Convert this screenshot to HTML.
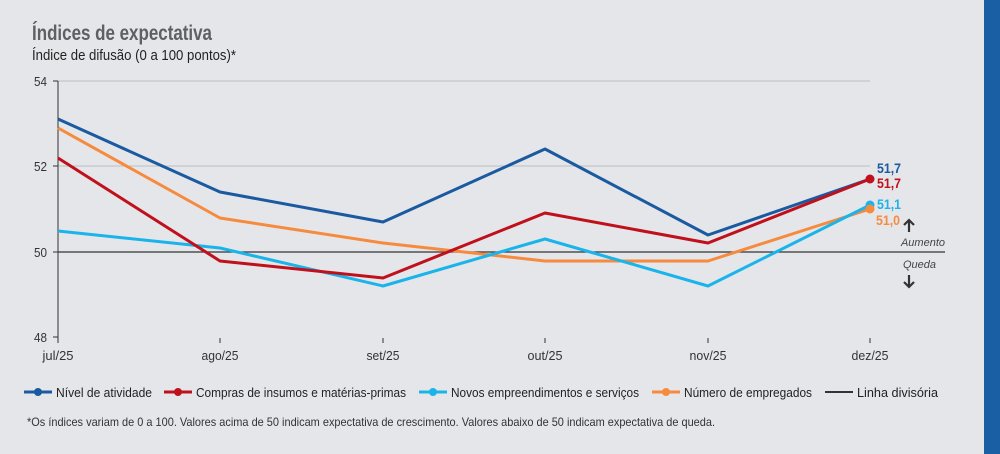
<!DOCTYPE html>
<html><head><meta charset="utf-8"><style>
html,body{margin:0;padding:0;background:#e5e6ea;}
svg{display:block;font-family:"Liberation Sans",sans-serif;}
</style></head><body>
<svg width="1000" height="454" viewBox="0 0 1000 454" xmlns="http://www.w3.org/2000/svg">
<rect width="1000" height="454" fill="#e5e6ea"/>
<rect x="984" y="0" width="16" height="454" fill="#1a5ea3"/>
<text x="32" y="40" font-size="21" font-weight="bold" fill="#5f6062" textLength="180" lengthAdjust="spacingAndGlyphs">Índices de expectativa</text>
<text x="32" y="60" font-size="15" fill="#222" textLength="204" lengthAdjust="spacingAndGlyphs">Índice de difusão (0 a 100 pontos)*</text>
<g stroke="#bdbec2" stroke-width="1">
<line x1="58" y1="81" x2="870" y2="81"/>
<line x1="58" y1="166" x2="870" y2="166"/>
</g>
<line x1="58" y1="81" x2="58" y2="338" stroke="#333" stroke-width="1"/>
<line x1="58" y1="252" x2="945" y2="252" stroke="#333" stroke-width="1.3"/>
<g stroke="#333" stroke-width="1">
<line x1="53" y1="81" x2="58" y2="81"/><line x1="53" y1="166" x2="58" y2="166"/><line x1="53" y1="252" x2="58" y2="252"/><line x1="53" y1="337" x2="58" y2="337"/>
<line x1="58" y1="338" x2="58" y2="343"/><line x1="220" y1="338" x2="220" y2="343"/><line x1="383" y1="338" x2="383" y2="343"/><line x1="545" y1="338" x2="545" y2="343"/><line x1="708" y1="338" x2="708" y2="343"/><line x1="870" y1="338" x2="870" y2="343"/>
</g>
<g font-size="13" fill="#333" text-anchor="end">
<text x="47" y="86" textLength="13" lengthAdjust="spacingAndGlyphs">54</text><text x="47" y="171" textLength="13" lengthAdjust="spacingAndGlyphs">52</text><text x="47" y="257" textLength="13" lengthAdjust="spacingAndGlyphs">50</text><text x="47" y="342" textLength="13" lengthAdjust="spacingAndGlyphs">48</text>
</g>
<g font-size="13" fill="#333" text-anchor="middle">
<text x="58" y="360" textLength="31" lengthAdjust="spacingAndGlyphs">jul/25</text><text x="220" y="360" textLength="37" lengthAdjust="spacingAndGlyphs">ago/25</text><text x="383" y="360" textLength="33" lengthAdjust="spacingAndGlyphs">set/25</text><text x="545" y="360" textLength="35" lengthAdjust="spacingAndGlyphs">out/25</text><text x="708" y="360" textLength="37" lengthAdjust="spacingAndGlyphs">nov/25</text><text x="870" y="360" textLength="37" lengthAdjust="spacingAndGlyphs">dez/25</text>
</g>
<g fill="none" stroke-width="3" stroke-linejoin="round">
<polyline stroke="#f68b3e" points="58,128 220,218 383,243 545,261 708,261 870,209"/>
<polyline stroke="#1ab4ea" points="58,231 220,248 383,286 545,239 708,286 870,205"/>
<polyline stroke="#1a5aa0" points="58,119 220,192 383,222 545,149 708,235 870,179"/>
<polyline stroke="#c0101c" points="58,158 220,261 383,278 545,213 708,243 870,179"/>
</g>
<circle cx="870" cy="179" r="4.5" fill="#c0101c"/>
<circle cx="870" cy="205" r="4.5" fill="#1ab4ea"/>
<circle cx="870" cy="209" r="4.5" fill="#f68b3e"/>
<g font-size="14" font-weight="bold">
<text x="877" y="173" fill="#1a5aa0" textLength="24" lengthAdjust="spacingAndGlyphs">51,7</text>
<text x="877" y="188" fill="#c0101c" textLength="24" lengthAdjust="spacingAndGlyphs">51,7</text>
<text x="877" y="209" fill="#1ab4ea" textLength="24" lengthAdjust="spacingAndGlyphs">51,1</text>
<text x="876" y="225" fill="#f68b3e" textLength="24" lengthAdjust="spacingAndGlyphs">51,0</text>
</g>
<g stroke="#333" stroke-width="2.2" fill="none">
<path d="M909,232 V220 M904,225 L909,220 L914,225"/>
<path d="M909,275 V287 M904,282 L909,287 L914,282"/>
</g>
<text x="945" y="246" font-size="11" font-style="italic" fill="#444" text-anchor="end">Aumento</text>
<text x="903" y="268" font-size="11" font-style="italic" fill="#444">Queda</text>
<g font-size="13" fill="#222">
<line x1="24" y1="392" x2="52" y2="392" stroke="#1a5aa0" stroke-width="3"/><circle cx="38" cy="392" r="4" fill="#1a5aa0"/>
<text x="56" y="397" textLength="96" lengthAdjust="spacingAndGlyphs">Nível de atividade</text>
<line x1="164" y1="392" x2="192" y2="392" stroke="#c0101c" stroke-width="3"/><circle cx="178" cy="392" r="4" fill="#c0101c"/>
<text x="196" y="397" textLength="210" lengthAdjust="spacingAndGlyphs">Compras de insumos e matérias-primas</text>
<line x1="419" y1="392" x2="447" y2="392" stroke="#1ab4ea" stroke-width="3"/><circle cx="433" cy="392" r="4" fill="#1ab4ea"/>
<text x="451" y="397" textLength="188" lengthAdjust="spacingAndGlyphs">Novos empreendimentos e serviços</text>
<line x1="652" y1="392" x2="680" y2="392" stroke="#f68b3e" stroke-width="3"/><circle cx="666" cy="392" r="4" fill="#f68b3e"/>
<text x="684" y="397" textLength="128" lengthAdjust="spacingAndGlyphs">Número de empregados</text>
<line x1="825" y1="392" x2="853" y2="392" stroke="#333" stroke-width="2"/>
<text x="857" y="397" textLength="81" lengthAdjust="spacingAndGlyphs">Linha divisória</text>
</g>
<text x="27" y="426" font-size="12" fill="#333" textLength="688" lengthAdjust="spacingAndGlyphs">*Os índices variam de 0 a 100. Valores acima de 50 indicam expectativa de crescimento. Valores abaixo de 50 indicam expectativa de queda.</text>
</svg>
</body></html>
